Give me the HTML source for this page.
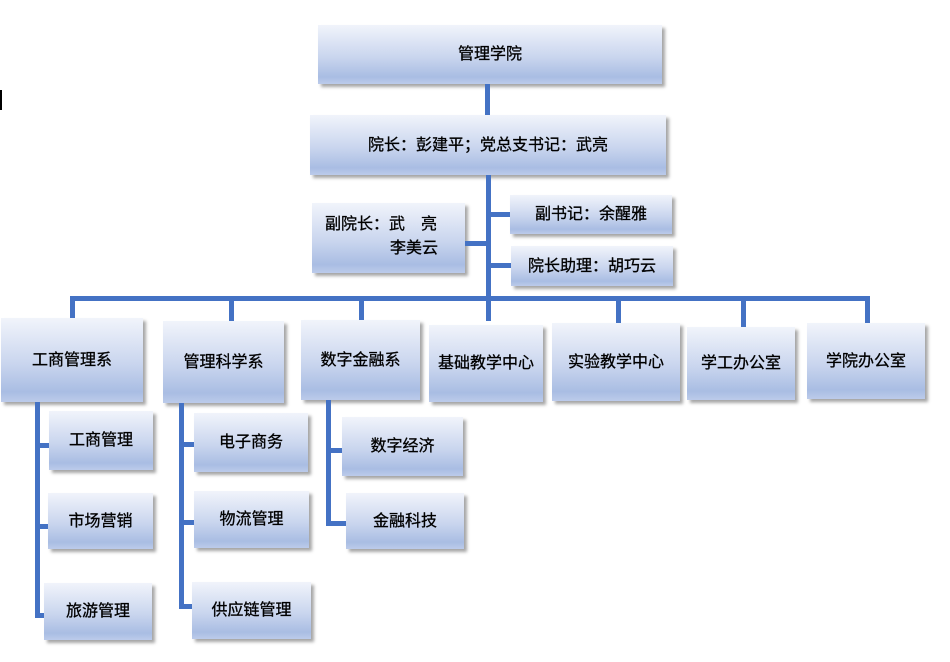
<!DOCTYPE html>
<html><head><meta charset="utf-8"><style>
body{margin:0;width:950px;height:662px;background:#fff;position:relative;overflow:hidden;font-family:"Liberation Sans","Noto Sans CJK SC",sans-serif;}
.b{position:absolute;box-sizing:border-box;background:linear-gradient(to bottom,#f1f4fb 0%,#c9d5ee 55%,#a9bde3 88%,#bccbea 100%);box-shadow:3px 3px 3px rgba(0,0,0,0.35);display:flex;align-items:center;justify-content:center;font-size:16px;color:#000;padding-bottom:5px;-webkit-text-stroke:0.3px #000;}
.l{position:absolute;background:#4472c4;}
</style></head><body>
<div class="l" style="left:0;top:90px;width:2px;height:20px;background:#000"></div>
<div class="b" style="left:318px;top:25px;width:344px;height:59px">管理学院</div>
<div class="l" style="left:485px;top:84px;width:5px;height:31px"></div>
<div class="b" style="left:310px;top:115px;width:356px;height:60px">院长：彭建平；党总支书记：武亮</div>
<div class="l" style="left:486px;top:175px;width:5px;height:146px"></div>
<div class="b" style="left:312px;top:203px;width:153px;height:70px;display:block;padding:10px 0 0 13px;line-height:24px">副院长：武　亮<br><span style="padding-left:65px">李美云</span></div>
<div class="l" style="left:465px;top:241px;width:23px;height:5px"></div>
<div class="b" style="left:510px;top:195px;width:162px;height:39px">副书记：余醒雅</div>
<div class="l" style="left:488px;top:212px;width:22px;height:5px"></div>
<div class="b" style="left:511px;top:246px;width:162px;height:40px">院长助理：胡巧云</div>
<div class="l" style="left:488px;top:263px;width:23px;height:5px"></div>
<div class="l" style="left:70px;top:296px;width:800px;height:5px"></div>
<div class="l" style="left:70px;top:296px;width:5px;height:22px"></div>
<div class="l" style="left:229px;top:296px;width:5px;height:25px"></div>
<div class="l" style="left:359px;top:296px;width:5px;height:24px"></div>
<div class="l" style="left:616px;top:296px;width:5px;height:27px"></div>
<div class="l" style="left:741px;top:296px;width:5px;height:31px"></div>
<div class="l" style="left:865px;top:296px;width:5px;height:31px"></div>
<div class="b" style="left:1px;top:318px;width:142px;height:84px">工商管理系</div>
<div class="b" style="left:163px;top:321px;width:121px;height:82px">管理科学系</div>
<div class="b" style="left:301px;top:320px;width:119px;height:80px">数字金融系</div>
<div class="b" style="left:429px;top:325px;width:114px;height:77px">基础教学中心</div>
<div class="b" style="left:552px;top:323px;width:128px;height:78px">实验教学中心</div>
<div class="b" style="left:687px;top:327px;width:108px;height:73px">学工办公室</div>
<div class="b" style="left:807px;top:323px;width:118px;height:76px">学院办公室</div>
<div class="l" style="left:35px;top:402px;width:5px;height:216px"></div>
<div class="l" style="left:35px;top:443px;width:14px;height:5px"></div>
<div class="l" style="left:35px;top:524px;width:14px;height:5px"></div>
<div class="l" style="left:35px;top:613px;width:11px;height:5px"></div>
<div class="b" style="left:49px;top:411px;width:104px;height:59px">工商管理</div>
<div class="b" style="left:48px;top:493px;width:105px;height:56px">市场营销</div>
<div class="b" style="left:44px;top:583px;width:108px;height:57px">旅游管理</div>
<div class="l" style="left:179px;top:403px;width:5px;height:205px"></div>
<div class="l" style="left:179px;top:442px;width:15px;height:5px"></div>
<div class="l" style="left:179px;top:520px;width:15px;height:5px"></div>
<div class="l" style="left:179px;top:604px;width:13px;height:5px"></div>
<div class="b" style="left:194px;top:413px;width:114px;height:59px">电子商务</div>
<div class="b" style="left:194px;top:491px;width:115px;height:57px">物流管理</div>
<div class="b" style="left:192px;top:582px;width:119px;height:57px">供应链管理</div>
<div class="l" style="left:326px;top:400px;width:5px;height:125px"></div>
<div class="l" style="left:326px;top:448px;width:16px;height:5px"></div>
<div class="l" style="left:326px;top:521px;width:20px;height:5px"></div>
<div class="b" style="left:342px;top:417px;width:121px;height:59px">数字经济</div>
<div class="b" style="left:346px;top:493px;width:118px;height:56px">金融科技</div>
</body></html>
